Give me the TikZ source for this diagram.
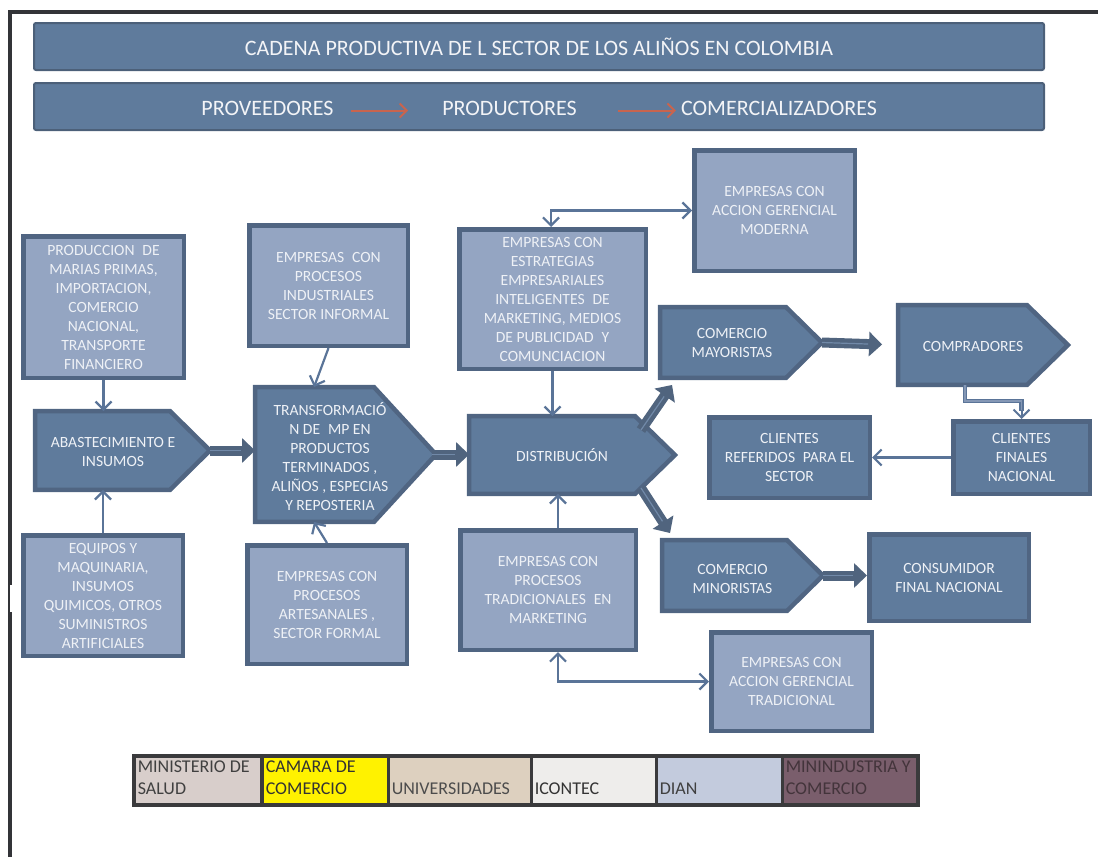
\documentclass[tikz,border=0pt]{standalone}
\usepackage{fontspec}
\setmainfont{Carlito}
\usetikzlibrary{arrows.meta,calc}

\definecolor{boxdark}{HTML}{5F7B9C}
\definecolor{boxlight}{HTML}{94A5C2}
\definecolor{boxedge}{HTML}{506582}
\definecolor{boxtext}{HTML}{EEF1F6}
\definecolor{banneredge}{HTML}{4C6079}
\definecolor{headtext}{HTML}{F3F4F7}
\definecolor{linkblue}{HTML}{5A7498}
\definecolor{linkfill}{HTML}{8497B5}
\definecolor{blockarrow}{HTML}{50647E}
\definecolor{blockinner}{HTML}{7189A8}
\definecolor{flowred}{HTML}{C8644E}
\definecolor{frameline}{HTML}{333438}
\definecolor{legline}{HTML}{3A3A3C}
\definecolor{cellsalud}{HTML}{D8CECB}
\definecolor{cellcamara}{HTML}{FFF200}
\definecolor{celluniv}{HTML}{DDD0BF}
\definecolor{cellicontec}{HTML}{EEEDEB}
\definecolor{celldian}{HTML}{C3CBDD}
\definecolor{cellminind}{HTML}{7A5E6C}

\tikzset{
  card/.style={rectangle, draw=boxedge, line width=4.5pt, text=boxtext,
    align=center, inner sep=0pt, font=\fontsize{15.6}{19}\selectfont},
  lightcard/.style={card, fill=boxlight},
  darkcard/.style={card, fill=boxdark},
  pentbase/.style={rectangle, inner sep=0pt},
  pentshape/.style={draw=boxedge, line width=4.5pt, fill=boxdark},
  penttext/.style={text=boxtext, align=center, inner sep=0pt,
    font=\fontsize{15.6}{19}\selectfont},
  banner/.style={rectangle, draw=banneredge, line width=2pt, fill=boxdark,
    rounded corners=2pt, inner sep=0pt, text=headtext,
    font=\fontsize{22}{26}\selectfont},
  stagetext/.style={text=headtext, inner sep=0pt, font=\fontsize{22}{26}\selectfont},
  stageflow/.style={draw=flowred, line width=2pt, -{Straight Barb[length=7pt,width=14pt]}},
  link/.style={draw=linkblue, line width=2.2pt, -{Straight Barb[length=8pt,width=16pt]}},
  twoway/.style={draw=linkblue, line width=2.2pt,
    {Straight Barb[length=8pt,width=16pt]}-{Straight Barb[length=8pt,width=16pt]}},
  elbow/.style={draw=linkblue, line width=1.3pt, double=linkfill, double distance=1.6pt},
  block/.style={draw=blockarrow, line width=10pt, -{Triangle[length=13pt,width=24pt]}},
  blockcore/.style={draw=blockinner, line width=1.2pt},
  legcell/.style={rectangle, draw=legline, line width=1.5pt, inner xsep=3pt,
    inner ysep=0pt, minimum height=47.5pt, align=flush left,
    font=\fontsize{18}{22.5}\selectfont},
}

% pentagon arrow outline around a named frame node, #2 = depth of the point
\newcommand\drawpentagon[2]{%
  \draw[pentshape] (#1.north west) -- ([xshift=-#2pt]#1.north east) -- (#1.east)
    -- ([xshift=-#2pt]#1.south east) -- (#1.south west) -- cycle;}
% wide block arrow with a light core line
\newcommand\blockarrow[2]{%
  \draw[block] #1 -- #2;
  \draw[blockcore, shorten >=14pt] #1 -- #2;}

\begin{document}
\begin{tikzpicture}[x=1pt,y=-1pt]
\useasboundingbox (0,0) rectangle (1098,857);

% page frame
\draw[frameline, line width=3.8pt] (8.2,12) -- (1098,12);
\draw[frameline, line width=4pt] (10.3,10.1) -- (10.3,857);
\fill[white] (10.4,585) rectangle (12.6,612);

% headings
\node[banner, minimum width=1010pt, minimum height=47pt] (title) at (539,46.5)
  {CADENA PRODUCTIVA DE L SECTOR DE LOS ALIÑOS EN COLOMBIA};
\node[banner, minimum width=1010pt, minimum height=47pt] (stages) at (539,106.5) {};
\node[stagetext] (prov) at (267.5,108) {PROVEEDORES};
\node[stagetext] (prodr) at (509.5,108) {PRODUCTORES};
\node[stagetext] (comz) at (779,108) {COMERCIALIZADORES};
\draw[stageflow, shorten <=17pt, shorten >=34pt] ([yshift=-2.5pt]prov.east) -- ([yshift=-2.5pt]prodr.west);
\draw[stageflow, shorten <=41pt, shorten >=5pt] ([yshift=-2.5pt]prodr.east) -- ([yshift=-2.5pt]comz.west);

% suppliers
\node[lightcard, minimum width=160.5pt, minimum height=141.5pt] (prod) at (103.5,307)
  {PRODUCCION\enspace DE\\MARIAS PRIMAS,\\IMPORTACION,\\COMERCIO\\NACIONAL,\\TRANSPORTE\\FINANCIERO};
\node[pentbase, minimum width=174.5pt, minimum height=78.5pt] (abast) at (122.5,450.5) {};
\drawpentagon{abast}{40}
\node[penttext] (abast-t) at (113,451.5) {ABASTECIMIENTO E\\INSUMOS};
\node[lightcard, minimum width=159.5pt, minimum height=120.5pt] (equip) at (103,595.5)
  {EQUIPOS Y\\MAQUINARIA,\\INSUMOS\\QUIMICOS, OTROS\\SUMINISTROS\\ARTIFICIALES};

% producers
\node[lightcard, minimum width=158.5pt, minimum height=120.5pt] (indus) at (328.5,285.5)
  {EMPRESAS\enspace CON\\PROCESOS\\INDUSTRIALES\\SECTOR INFORMAL};
\node[pentbase, minimum width=180.5pt, minimum height=134.5pt] (transf) at (345.5,454.5) {};
\drawpentagon{transf}{62}
\node[penttext] (transf-t) at (330,456.5)
  {TRANSFORMACIÓ\\N DE\enspace MP EN\\PRODUCTOS\\TERMINADOS ,\\ALIÑOS , ESPECIAS\\Y REPOSTERIA};
\node[lightcard, minimum width=159.5pt, minimum height=118.5pt] (artes) at (327,604.5)
  {EMPRESAS CON\\PROCESOS\\ARTESANALES ,\\SECTOR FORMAL};

% distribution
\node[lightcard, minimum width=186.5pt, minimum height=139.5pt] (estr) at (552.5,299)
  {EMPRESAS CON\\ESTRATEGIAS\\EMPRESARIALES\\INTELIGENTES\enspace DE\\MARKETING, MEDIOS\\DE PUBLICIDAD\enspace Y\\COMUNCIACION};
\node[pentbase, minimum width=205.5pt, minimum height=77.5pt] (distr) at (572,455) {};
\drawpentagon{distr}{40}
\node[penttext] (distr-t) at (562,455) {DISTRIBUCIÓN};
\node[lightcard, minimum width=175.5pt, minimum height=119.5pt] (trad) at (548,590)
  {EMPRESAS CON\\PROCESOS\\TRADICIONALES\enspace EN\\MARKETING};
\node[lightcard, minimum width=160.5pt, minimum height=120.5pt] (moderna) at (774.5,210.5)
  {EMPRESAS CON\\ACCION GERENCIAL\\MODERNA};
\node[lightcard, minimum width=160.5pt, minimum height=98.5pt] (acctrad) at (791.5,681.5)
  {EMPRESAS CON\\ACCION GERENCIAL\\TRADICIONAL};

% traders
\node[pentbase, minimum width=161.5pt, minimum height=70.5pt] (mayor) at (741,342.5) {};
\drawpentagon{mayor}{36}
\node[penttext] (mayor-t) at (732,342.5) {COMERCIO\\MAYORISTAS};
\node[pentbase, minimum width=169.5pt, minimum height=79.5pt] (compr) at (983,345) {};
\drawpentagon{compr}{41}
\node[penttext] (compr-t) at (973,346) {COMPRADORES};
\node[darkcard, minimum width=136.5pt, minimum height=72.5pt] (finales) at (1021.5,457.5)
  {CLIENTES\\FINALES\\NACIONAL};
\node[darkcard, minimum width=160.5pt, minimum height=80.5pt] (refer) at (789.5,457.5)
  {CLIENTES\\REFERIDOS\enspace PARA EL\\SECTOR};
\node[pentbase, minimum width=160.5pt, minimum height=70.5pt] (minor) at (742.5,575.5) {};
\drawpentagon{minor}{36}
\node[penttext] (minor-t) at (732.5,579) {COMERCIO\\MINORISTAS};
\node[darkcard, minimum width=159.5pt, minimum height=86.5pt] (consum) at (949,577.5)
  {CONSUMIDOR\\FINAL NACIONAL};

% thin connectors
\draw[link] (prod) -- (prod.south |- abast.north);
\draw[link] (equip) -- (equip.north |- abast.south);
\draw[link] (indus.south) -- ($(transf.north west)+(59,0)$);
\draw[link] (artes.north) -- ($(transf.south west)+(59,0)$);
\draw[link] (estr.south) -- (estr.south |- distr.north);
\draw[twoway] ([xshift=-1.5pt]estr.north) |- (moderna.west);
\draw[link] ([xshift=10pt]trad.north) -- ([xshift=10pt]trad.north |- distr.south);
\draw[twoway] ([xshift=10pt]trad.south) |- (acctrad.west);
\draw[link] (finales.west) -- (refer.east);
\draw[elbow] ([xshift=-18pt]compr.south) -- ($(compr.south)+(-18,16)$) -| ([yshift=8pt]finales.north);
\draw[link, line width=2pt] ([yshift=9pt]finales.north) -- (finales.north);

% block arrows
\blockarrow{(abast.east)}{(abast.east -| transf.west)}
\blockarrow{([xshift=-4pt]transf.east)}{(transf.east -| distr.west)}
\blockarrow{($(distr.north east)+(-34,14)$)}{($(mayor.south west)+(12,7)$)}
\blockarrow{($(distr.south east)+(-34,-6)$)}{($(minor.north west)+(8,-7)$)}
\blockarrow{(mayor.east)}{($(mayor.east -| compr.west)+(-16,2)$)}
\blockarrow{(minor.east)}{(minor.east -| consum.west)}

% institutions
\node[legcell, fill=cellsalud, text=black!75, text width=120.5pt] (salud) at (198,780.5)
  {MINISTERIO DE\\SALUD\par\kern6pt};
\node[legcell, fill=cellcamara, text=black!80, text width=118.5pt] (camara) at (325,780.5)
  {CAMARA DE\\COMERCIO\par\kern6pt};
\node[legcell, fill=celluniv, text=black!70, text width=135.5pt] (univ) at (459.5,780.5)
  {\phantom{M}\\UNIVERSIDADES\par\kern6pt};
\node[legcell, fill=cellicontec, text=black!80, text width=117.5pt] (icontec) at (593.5,780.5)
  {\phantom{M}\\ICONTEC\par\kern6pt};
\node[legcell, fill=celldian, text=black!75, text width=118.5pt] (dian) at (719,780.5)
  {\phantom{M}\\DIAN\par\kern6pt};
\node[legcell, fill=cellminind, text=cellminind!55!black, text width=128.5pt] (minind) at (850,780.5)
  {MININDUSTRIA Y\\COMERCIO\par\kern6pt};
\draw[legline, line width=3.5pt] (salud.north west) rectangle (minind.south east);
\draw[legline, line width=3.5pt] (salud.north west) rectangle (salud.south east);
\end{tikzpicture}
\end{document}
